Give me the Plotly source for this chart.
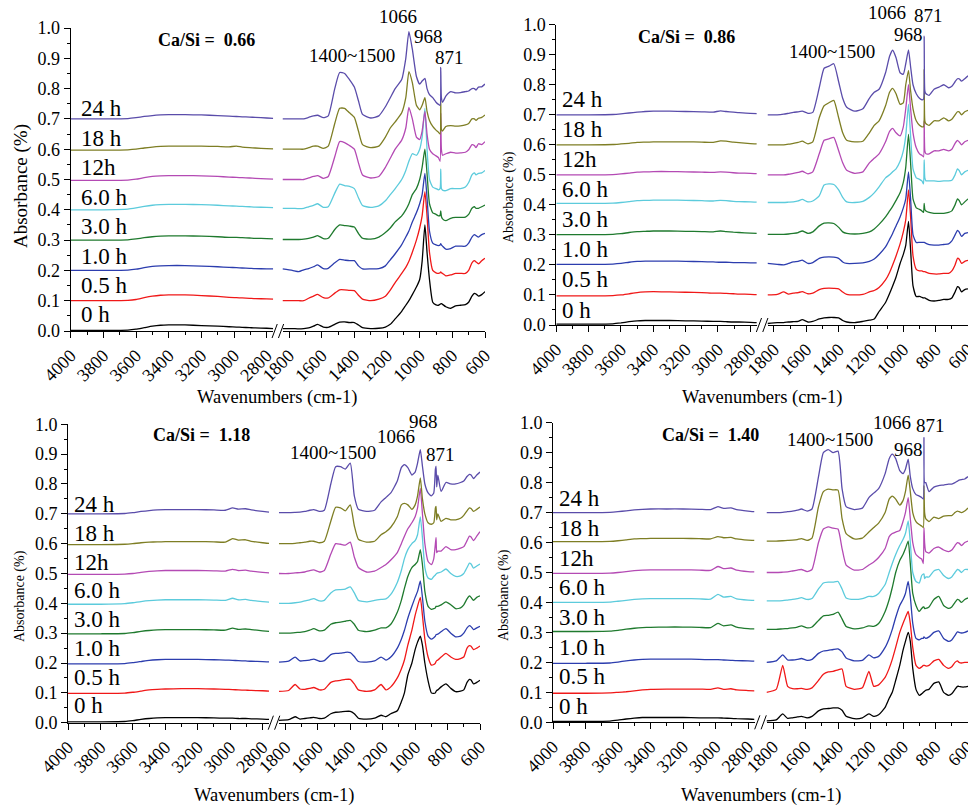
import plotly.graph_objects as go

# ---------------- data ----------------
W_LEFT = [4000, 3800, 3650, 3600, 3550, 3500, 3450, 3400, 3300, 3200, 3100, 3030, 2985, 2950, 2905, 2870, 2800, 2760]
W_RIGHT = [1840, 1780, 1740, 1710, 1680, 1650, 1625, 1590, 1560, 1520,
           1490, 1460, 1430, 1400, 1375, 1350, 1300, 1250, 1210, 1180,
           1150, 1110, 1085, 1066, 1045, 1020, 1000, 985, 968, 955,
           940, 920, 900, 885, 875, 871, 867, 860, 840, 810,
           780, 750, 720, 700, 680, 665, 655, 640, 620, 600]
TIMES = ["0 h", "0.5 h", "1.0 h", "3.0 h", "6.0 h", "12h", "18 h", "24 h"]
OFFSETS = [0.0, 0.1, 0.2, 0.3, 0.4, 0.5, 0.6, 0.7]
COLORS = ["#000000", "#f01818", "#2c3dae", "#1f7a2e", "#5ccbdc", "#b44ab4", "#7e7e24", "#5a4caa"]
RATIOS = ["0.66", "0.86", "1.18", "1.40"]
PEAKS = ["1400~1500", "1066", "968", "871"]
Y_TICKS = [0.0, 0.1, 0.2, 0.3, 0.4, 0.5, 0.6, 0.7, 0.8, 0.9, 1.0]

# Ca/Si = 0.66
left_066 = [
    [0.002, 0.002, 0.003, 0.006, 0.011, 0.016, 0.019, 0.020, 0.020, 0.018, 0.016, 0.014, 0.013, 0.012, 0.011, 0.010, 0.009, 0.008],
    [0.100, 0.100, 0.101, 0.104, 0.110, 0.115, 0.118, 0.119, 0.119, 0.117, 0.114, 0.111, 0.110, 0.109, 0.108, 0.107, 0.106, 0.105],
    [0.200, 0.200, 0.201, 0.204, 0.209, 0.213, 0.215, 0.216, 0.216, 0.214, 0.212, 0.210, 0.209, 0.208, 0.207, 0.206, 0.205, 0.205],
    [0.300, 0.300, 0.301, 0.304, 0.308, 0.311, 0.313, 0.314, 0.314, 0.313, 0.311, 0.309, 0.309, 0.308, 0.307, 0.306, 0.305, 0.304],
    [0.400, 0.400, 0.402, 0.406, 0.411, 0.415, 0.417, 0.418, 0.418, 0.417, 0.415, 0.413, 0.412, 0.411, 0.410, 0.409, 0.408, 0.407],
    [0.497, 0.497, 0.498, 0.501, 0.506, 0.510, 0.512, 0.513, 0.513, 0.512, 0.510, 0.508, 0.507, 0.506, 0.505, 0.504, 0.502, 0.501],
    [0.597, 0.597, 0.598, 0.600, 0.604, 0.607, 0.609, 0.610, 0.610, 0.610, 0.609, 0.608, 0.610, 0.607, 0.605, 0.604, 0.602, 0.601],
    [0.700, 0.700, 0.701, 0.704, 0.708, 0.711, 0.713, 0.714, 0.714, 0.713, 0.711, 0.709, 0.708, 0.707, 0.706, 0.705, 0.703, 0.702],
]
right_066 = [
    [0.008, 0.008, 0.007, 0.008, 0.010, 0.016, 0.022, 0.013, 0.012, 0.022,
     0.029, 0.030, 0.028, 0.028, 0.020, 0.011, 0.008, 0.009, 0.013, 0.022,
     0.040, 0.065, 0.085, 0.100, 0.120, 0.145, 0.170, 0.230, 0.350, 0.260,
     0.170, 0.095, 0.086, 0.085, 0.088, 0.090, 0.090, 0.088, 0.080, 0.075,
     0.083, 0.085, 0.087, 0.095, 0.115, 0.124, 0.122, 0.115, 0.120, 0.130],
    [0.100, 0.100, 0.100, 0.100, 0.108, 0.115, 0.121, 0.110, 0.109, 0.125,
     0.136, 0.136, 0.134, 0.133, 0.118, 0.105, 0.100, 0.105, 0.115, 0.135,
     0.160, 0.190, 0.210, 0.230, 0.260, 0.300, 0.340, 0.380, 0.460, 0.380,
     0.260, 0.200, 0.192, 0.190, 0.192, 0.195, 0.192, 0.190, 0.182, 0.185,
     0.190, 0.190, 0.190, 0.200, 0.225, 0.232, 0.228, 0.222, 0.232, 0.240],
    [0.205, 0.200, 0.196, 0.202, 0.206, 0.212, 0.218, 0.206, 0.207, 0.225,
     0.236, 0.234, 0.232, 0.232, 0.215, 0.205, 0.205, 0.206, 0.215, 0.235,
     0.255, 0.285, 0.310, 0.330, 0.360, 0.390, 0.420, 0.450, 0.520, 0.440,
     0.330, 0.290, 0.284, 0.282, 0.284, 0.288, 0.284, 0.280, 0.270, 0.272,
     0.280, 0.280, 0.280, 0.290, 0.310, 0.318, 0.315, 0.310, 0.318, 0.322],
    [0.302, 0.302, 0.302, 0.303, 0.306, 0.310, 0.315, 0.305, 0.306, 0.335,
     0.350, 0.348, 0.346, 0.343, 0.322, 0.306, 0.303, 0.310, 0.325, 0.340,
     0.360, 0.380, 0.400, 0.420, 0.450, 0.470, 0.500, 0.540, 0.600, 0.520,
     0.420, 0.390, 0.385, 0.380, 0.382, 0.396, 0.378, 0.370, 0.364, 0.372,
     0.375, 0.375, 0.376, 0.385, 0.405, 0.410, 0.405, 0.405, 0.410, 0.416],
    [0.405, 0.405, 0.404, 0.405, 0.410, 0.415, 0.420, 0.408, 0.410, 0.455,
     0.485, 0.480, 0.477, 0.470, 0.440, 0.414, 0.408, 0.413, 0.430, 0.450,
     0.470, 0.500, 0.530, 0.560, 0.585, 0.580, 0.600, 0.640, 0.735, 0.600,
     0.500, 0.475, 0.470, 0.466, 0.470, 0.534, 0.470, 0.465, 0.463, 0.470,
     0.470, 0.470, 0.475, 0.490, 0.515, 0.522, 0.515, 0.520, 0.522, 0.530],
    [0.500, 0.500, 0.500, 0.500, 0.505, 0.510, 0.513, 0.504, 0.510, 0.575,
     0.625, 0.622, 0.612, 0.600, 0.555, 0.515, 0.505, 0.510, 0.540, 0.570,
     0.600, 0.630, 0.670, 0.738, 0.700, 0.640, 0.632, 0.660, 0.725, 0.650,
     0.600, 0.585, 0.578, 0.572, 0.560, 0.720, 0.600, 0.580, 0.585, 0.590,
     0.587, 0.588, 0.590, 0.598, 0.615, 0.612, 0.605, 0.618, 0.615, 0.625],
    [0.600, 0.600, 0.600, 0.600, 0.605, 0.610, 0.610, 0.603, 0.610, 0.685,
     0.735, 0.735, 0.720, 0.705, 0.660, 0.615, 0.605, 0.610, 0.640, 0.670,
     0.690, 0.720, 0.770, 0.856, 0.820, 0.745, 0.730, 0.745, 0.770, 0.725,
     0.695, 0.675, 0.663, 0.656, 0.650, 0.760, 0.665, 0.660, 0.675, 0.678,
     0.676, 0.677, 0.680, 0.685, 0.700, 0.700, 0.695, 0.702, 0.705, 0.713],
    [0.700, 0.700, 0.700, 0.700, 0.705, 0.710, 0.712, 0.704, 0.710, 0.800,
     0.853, 0.850, 0.830, 0.805, 0.760, 0.715, 0.703, 0.710, 0.740, 0.770,
     0.800, 0.830, 0.900, 0.988, 0.930, 0.840, 0.815, 0.825, 0.834, 0.800,
     0.780, 0.770, 0.755, 0.748, 0.745, 0.870, 0.770, 0.755, 0.775, 0.790,
     0.786, 0.787, 0.790, 0.792, 0.800, 0.800, 0.795, 0.805, 0.806, 0.815],
]

# Ca/Si = 0.86
left_086 = [
    [0.003, 0.003, 0.004, 0.007, 0.011, 0.014, 0.015, 0.015, 0.015, 0.014, 0.013, 0.012, 0.012, 0.011, 0.010, 0.010, 0.009, 0.008],
    [0.097, 0.097, 0.098, 0.100, 0.104, 0.108, 0.110, 0.111, 0.110, 0.109, 0.108, 0.106, 0.106, 0.105, 0.104, 0.103, 0.102, 0.101],
    [0.202, 0.202, 0.203, 0.205, 0.209, 0.212, 0.213, 0.213, 0.213, 0.212, 0.211, 0.210, 0.209, 0.209, 0.208, 0.208, 0.207, 0.207],
    [0.301, 0.301, 0.302, 0.304, 0.308, 0.311, 0.312, 0.313, 0.313, 0.312, 0.311, 0.310, 0.313, 0.311, 0.309, 0.308, 0.306, 0.305],
    [0.405, 0.405, 0.406, 0.408, 0.411, 0.414, 0.415, 0.416, 0.416, 0.415, 0.414, 0.413, 0.415, 0.414, 0.412, 0.411, 0.410, 0.409],
    [0.500, 0.500, 0.501, 0.503, 0.506, 0.509, 0.510, 0.511, 0.511, 0.510, 0.509, 0.508, 0.510, 0.509, 0.507, 0.506, 0.505, 0.504],
    [0.600, 0.600, 0.601, 0.603, 0.605, 0.608, 0.609, 0.610, 0.610, 0.610, 0.609, 0.608, 0.613, 0.612, 0.609, 0.607, 0.604, 0.603],
    [0.700, 0.700, 0.701, 0.703, 0.706, 0.709, 0.711, 0.712, 0.712, 0.711, 0.710, 0.709, 0.713, 0.711, 0.709, 0.707, 0.705, 0.704],
]
right_086 = [
    [0.005, 0.008, 0.008, 0.010, 0.011, 0.012, 0.018, 0.010, 0.012, 0.020,
     0.024, 0.025, 0.025, 0.024, 0.015, 0.010, 0.008, 0.012, 0.016, 0.020,
     0.045, 0.075, 0.105, 0.130, 0.160, 0.205, 0.235, 0.265, 0.345, 0.250,
     0.130, 0.095, 0.095, 0.092, 0.090, 0.090, 0.090, 0.088, 0.082, 0.080,
     0.082, 0.085, 0.085, 0.090, 0.110, 0.128, 0.125, 0.110, 0.118, 0.120],
    [0.100, 0.102, 0.110, 0.103, 0.106, 0.108, 0.111, 0.104, 0.106, 0.118,
     0.122, 0.123, 0.122, 0.120, 0.110, 0.102, 0.100, 0.102, 0.110, 0.115,
     0.125, 0.150, 0.175, 0.200, 0.230, 0.270, 0.310, 0.350, 0.450, 0.360,
     0.230, 0.185, 0.180, 0.180, 0.178, 0.178, 0.178, 0.176, 0.172, 0.170,
     0.170, 0.172, 0.172, 0.180, 0.200, 0.222, 0.220, 0.205, 0.212, 0.215],
    [0.205, 0.202, 0.200, 0.205, 0.210, 0.212, 0.216, 0.205, 0.208, 0.222,
     0.226, 0.227, 0.226, 0.222, 0.210, 0.205, 0.205, 0.207, 0.212, 0.220,
     0.235, 0.260, 0.285, 0.305, 0.330, 0.360, 0.390, 0.420, 0.510, 0.420,
     0.300, 0.275, 0.275, 0.275, 0.275, 0.275, 0.274, 0.272, 0.268, 0.266,
     0.266, 0.268, 0.270, 0.280, 0.300, 0.315, 0.310, 0.295, 0.305, 0.308],
    [0.302, 0.302, 0.302, 0.303, 0.305, 0.308, 0.313, 0.305, 0.310, 0.330,
     0.339, 0.340, 0.338, 0.325, 0.310, 0.305, 0.303, 0.305, 0.310, 0.320,
     0.335, 0.360, 0.380, 0.395, 0.415, 0.440, 0.475, 0.525, 0.635, 0.540,
     0.420, 0.390, 0.385, 0.380, 0.375, 0.405, 0.385, 0.380, 0.375, 0.372,
     0.372, 0.372, 0.375, 0.380, 0.400, 0.420, 0.415, 0.400, 0.410, 0.420],
    [0.408, 0.408, 0.408, 0.409, 0.410, 0.413, 0.418, 0.410, 0.413, 0.430,
     0.466, 0.470, 0.468, 0.450, 0.425, 0.410, 0.408, 0.412, 0.425, 0.440,
     0.460, 0.490, 0.500, 0.510, 0.520, 0.545, 0.580, 0.630, 0.735, 0.630,
     0.520, 0.490, 0.485, 0.480, 0.470, 0.550, 0.490, 0.480, 0.480, 0.480,
     0.478, 0.480, 0.480, 0.482, 0.500, 0.520, 0.515, 0.500, 0.510, 0.515],
    [0.500, 0.500, 0.500, 0.502, 0.505, 0.508, 0.512, 0.503, 0.510, 0.570,
     0.615, 0.620, 0.625, 0.580, 0.540, 0.515, 0.505, 0.510, 0.540, 0.555,
     0.570, 0.610, 0.645, 0.655, 0.640, 0.630, 0.660, 0.720, 0.800, 0.720,
     0.640, 0.590, 0.570, 0.565, 0.560, 0.680, 0.580, 0.570, 0.570, 0.580,
     0.580, 0.585, 0.580, 0.585, 0.605, 0.615, 0.610, 0.600, 0.610, 0.615],
    [0.600, 0.600, 0.600, 0.602, 0.605, 0.608, 0.612, 0.603, 0.610, 0.690,
     0.730, 0.740, 0.748, 0.690, 0.640, 0.615, 0.610, 0.612, 0.640, 0.665,
     0.680, 0.730, 0.775, 0.788, 0.770, 0.735, 0.740, 0.800, 0.848, 0.780,
     0.720, 0.680, 0.665, 0.660, 0.660, 0.850, 0.680, 0.670, 0.665, 0.680,
     0.680, 0.690, 0.680, 0.685, 0.700, 0.710, 0.710, 0.700, 0.710, 0.715],
    [0.700, 0.700, 0.702, 0.705, 0.708, 0.710, 0.712, 0.705, 0.708, 0.790,
     0.855, 0.862, 0.870, 0.810, 0.755, 0.725, 0.712, 0.720, 0.755, 0.775,
     0.785, 0.840, 0.895, 0.915, 0.890, 0.840, 0.835, 0.870, 0.916, 0.860,
     0.800, 0.770, 0.755, 0.750, 0.752, 0.962, 0.780, 0.770, 0.765, 0.785,
     0.792, 0.800, 0.790, 0.795, 0.810, 0.820, 0.820, 0.812, 0.820, 0.830],
]

# Ca/Si = 1.18
left_118 = [
    [0.003, 0.003, 0.004, 0.007, 0.011, 0.014, 0.016, 0.017, 0.017, 0.017, 0.016, 0.015, 0.015, 0.014, 0.014, 0.013, 0.012, 0.011],
    [0.098, 0.098, 0.099, 0.102, 0.106, 0.110, 0.112, 0.113, 0.114, 0.114, 0.113, 0.112, 0.111, 0.110, 0.109, 0.108, 0.107, 0.106],
    [0.197, 0.197, 0.198, 0.201, 0.205, 0.209, 0.211, 0.212, 0.212, 0.212, 0.211, 0.210, 0.209, 0.208, 0.207, 0.206, 0.205, 0.204],
    [0.298, 0.298, 0.299, 0.302, 0.306, 0.309, 0.311, 0.312, 0.312, 0.312, 0.311, 0.310, 0.317, 0.313, 0.314, 0.312, 0.308, 0.306],
    [0.397, 0.397, 0.399, 0.402, 0.406, 0.409, 0.411, 0.412, 0.412, 0.412, 0.411, 0.410, 0.417, 0.412, 0.413, 0.410, 0.406, 0.404],
    [0.497, 0.497, 0.498, 0.500, 0.504, 0.507, 0.509, 0.510, 0.510, 0.510, 0.509, 0.508, 0.514, 0.510, 0.511, 0.508, 0.504, 0.502],
    [0.597, 0.597, 0.598, 0.600, 0.603, 0.605, 0.606, 0.607, 0.607, 0.607, 0.606, 0.605, 0.617, 0.612, 0.613, 0.608, 0.603, 0.601],
    [0.700, 0.700, 0.701, 0.704, 0.708, 0.711, 0.713, 0.714, 0.714, 0.714, 0.713, 0.712, 0.720, 0.716, 0.717, 0.713, 0.708, 0.706],
]
right_118 = [
    [0.008, 0.010, 0.020, 0.012, 0.014, 0.016, 0.018, 0.014, 0.015, 0.030,
     0.035, 0.036, 0.038, 0.038, 0.030, 0.015, 0.012, 0.015, 0.025, 0.020,
     0.030, 0.040, 0.070, 0.100, 0.160, 0.200, 0.245, 0.270, 0.290, 0.260,
     0.200, 0.140, 0.100, 0.098, 0.100, 0.105, 0.108, 0.110, 0.120, 0.130,
     0.115, 0.104, 0.106, 0.110, 0.135, 0.145, 0.143, 0.130, 0.135, 0.142],
    [0.105, 0.108, 0.128, 0.113, 0.112, 0.115, 0.118, 0.110, 0.112, 0.135,
     0.140, 0.142, 0.145, 0.145, 0.130, 0.110, 0.105, 0.110, 0.128, 0.110,
     0.120, 0.150, 0.180, 0.210, 0.260, 0.310, 0.360, 0.390, 0.420, 0.360,
     0.280, 0.220, 0.193, 0.195, 0.200, 0.205, 0.208, 0.210, 0.220, 0.232,
     0.220, 0.212, 0.215, 0.220, 0.250, 0.258, 0.256, 0.245, 0.250, 0.257],
    [0.203, 0.206, 0.220, 0.207, 0.208, 0.210, 0.213, 0.206, 0.208, 0.228,
     0.232, 0.233, 0.236, 0.235, 0.222, 0.205, 0.203, 0.207, 0.220, 0.210,
     0.220, 0.250, 0.280, 0.310, 0.350, 0.390, 0.420, 0.440, 0.475, 0.420,
     0.340, 0.290, 0.280, 0.285, 0.290, 0.295, 0.296, 0.297, 0.305, 0.315,
     0.300, 0.288, 0.290, 0.300, 0.318, 0.325, 0.322, 0.312, 0.318, 0.323],
    [0.300, 0.300, 0.302, 0.303, 0.305, 0.310, 0.315, 0.308, 0.310, 0.330,
     0.335, 0.337, 0.340, 0.343, 0.330, 0.310, 0.305, 0.310, 0.318, 0.318,
     0.330, 0.370, 0.410, 0.450, 0.490, 0.520, 0.530, 0.540, 0.580, 0.530,
     0.440, 0.390, 0.380, 0.382, 0.385, 0.390, 0.390, 0.390, 0.395, 0.405,
     0.395, 0.382, 0.385, 0.395, 0.415, 0.425, 0.420, 0.410, 0.420, 0.425],
    [0.400, 0.400, 0.402, 0.404, 0.408, 0.412, 0.416, 0.408, 0.410, 0.435,
     0.445, 0.446, 0.448, 0.455, 0.435, 0.410, 0.405, 0.410, 0.413, 0.415,
     0.430, 0.470, 0.510, 0.550, 0.580, 0.600, 0.610, 0.630, 0.690, 0.620,
     0.520, 0.485, 0.480, 0.490, 0.495, 0.498, 0.500, 0.502, 0.505, 0.515,
     0.500, 0.490, 0.492, 0.500, 0.520, 0.535, 0.532, 0.518, 0.525, 0.532],
    [0.500, 0.500, 0.502, 0.503, 0.505, 0.510, 0.512, 0.505, 0.510, 0.565,
     0.600, 0.598, 0.595, 0.605, 0.555, 0.520, 0.505, 0.508, 0.520, 0.530,
     0.545, 0.570, 0.600, 0.625, 0.650, 0.670, 0.690, 0.720, 0.785, 0.700,
     0.600, 0.540, 0.530, 0.550, 0.600, 0.620, 0.570, 0.575, 0.575, 0.590,
     0.580, 0.580, 0.585, 0.590, 0.610, 0.625, 0.622, 0.610, 0.625, 0.640],
    [0.600, 0.600, 0.601, 0.603, 0.605, 0.608, 0.608, 0.603, 0.608, 0.675,
     0.722, 0.720, 0.710, 0.730, 0.660, 0.615, 0.605, 0.608, 0.630, 0.640,
     0.655, 0.690, 0.730, 0.735, 0.730, 0.715, 0.730, 0.760, 0.820, 0.750,
     0.700, 0.670, 0.665, 0.670, 0.720, 0.725, 0.680, 0.700, 0.675, 0.685,
     0.680, 0.680, 0.685, 0.695, 0.710, 0.720, 0.718, 0.708, 0.715, 0.723],
    [0.704, 0.704, 0.705, 0.706, 0.708, 0.712, 0.714, 0.708, 0.712, 0.800,
     0.858, 0.858, 0.850, 0.870, 0.760, 0.715, 0.708, 0.712, 0.740, 0.755,
     0.770, 0.810, 0.855, 0.865, 0.855, 0.830, 0.840, 0.870, 0.915, 0.860,
     0.800, 0.770, 0.760, 0.770, 0.850, 0.860, 0.790, 0.830, 0.775, 0.805,
     0.800, 0.800, 0.805, 0.810, 0.825, 0.832, 0.830, 0.818, 0.830, 0.840],
]

# Ca/Si = 1.40
left_140 = [
    [0.003, 0.003, 0.004, 0.007, 0.011, 0.014, 0.016, 0.016, 0.016, 0.016, 0.015, 0.015, 0.015, 0.014, 0.013, 0.012, 0.011, 0.010],
    [0.097, 0.097, 0.098, 0.100, 0.102, 0.105, 0.108, 0.110, 0.111, 0.111, 0.111, 0.110, 0.115, 0.110, 0.112, 0.108, 0.106, 0.105],
    [0.197, 0.197, 0.198, 0.201, 0.205, 0.208, 0.210, 0.211, 0.211, 0.211, 0.210, 0.209, 0.209, 0.208, 0.207, 0.206, 0.205, 0.204],
    [0.303, 0.303, 0.304, 0.307, 0.311, 0.314, 0.316, 0.317, 0.318, 0.318, 0.317, 0.316, 0.330, 0.322, 0.325, 0.318, 0.313, 0.312],
    [0.400, 0.400, 0.401, 0.404, 0.407, 0.410, 0.412, 0.413, 0.413, 0.413, 0.412, 0.411, 0.427, 0.418, 0.420, 0.412, 0.408, 0.407],
    [0.497, 0.497, 0.498, 0.500, 0.503, 0.506, 0.508, 0.509, 0.509, 0.509, 0.508, 0.507, 0.520, 0.513, 0.515, 0.508, 0.503, 0.502],
    [0.603, 0.603, 0.604, 0.606, 0.609, 0.612, 0.613, 0.614, 0.614, 0.614, 0.613, 0.612, 0.620, 0.616, 0.617, 0.612, 0.608, 0.607],
    [0.700, 0.700, 0.701, 0.703, 0.706, 0.709, 0.711, 0.712, 0.712, 0.712, 0.711, 0.710, 0.720, 0.714, 0.716, 0.710, 0.705, 0.703],
]
right_140 = [
    [0.005, 0.008, 0.028, 0.013, 0.015, 0.018, 0.020, 0.015, 0.020, 0.038,
     0.045, 0.046, 0.048, 0.048, 0.040, 0.020, 0.012, 0.015, 0.028, 0.020,
     0.025, 0.050, 0.080, 0.100, 0.140, 0.190, 0.240, 0.270, 0.300, 0.270,
     0.180, 0.110, 0.090, 0.095, 0.100, 0.102, 0.104, 0.107, 0.110, 0.130,
     0.135, 0.100, 0.090, 0.095, 0.110, 0.120, 0.120, 0.118, 0.118, 0.120],
    [0.100, 0.110, 0.190, 0.120, 0.112, 0.112, 0.113, 0.110, 0.115, 0.140,
     0.160, 0.168, 0.170, 0.175, 0.178, 0.120, 0.110, 0.115, 0.170, 0.120,
     0.125, 0.150, 0.180, 0.210, 0.250, 0.300, 0.330, 0.350, 0.370, 0.330,
     0.250, 0.190, 0.180, 0.185, 0.190, 0.190, 0.190, 0.188, 0.190, 0.205,
     0.210, 0.190, 0.180, 0.185, 0.200, 0.205, 0.200, 0.198, 0.200, 0.200],
    [0.200, 0.205, 0.225, 0.208, 0.208, 0.210, 0.213, 0.207, 0.210, 0.230,
     0.238, 0.240, 0.243, 0.245, 0.235, 0.215, 0.205, 0.207, 0.225, 0.215,
     0.220, 0.250, 0.280, 0.310, 0.350, 0.390, 0.410, 0.430, 0.470, 0.420,
     0.330, 0.280, 0.275, 0.280, 0.280, 0.285, 0.283, 0.280, 0.285, 0.300,
     0.305, 0.280, 0.270, 0.275, 0.290, 0.302, 0.300, 0.298, 0.300, 0.305],
    [0.310, 0.310, 0.312, 0.313, 0.315, 0.318, 0.322, 0.315, 0.318, 0.340,
     0.355, 0.357, 0.360, 0.368, 0.345, 0.320, 0.312, 0.315, 0.322, 0.320,
     0.330, 0.370, 0.410, 0.450, 0.500, 0.540, 0.560, 0.580, 0.605, 0.530,
     0.430, 0.390, 0.370, 0.380, 0.385, 0.385, 0.380, 0.380, 0.385, 0.410,
     0.420, 0.390, 0.380, 0.385, 0.400, 0.410, 0.408, 0.400, 0.410, 0.415],
    [0.405, 0.405, 0.406, 0.408, 0.410, 0.413, 0.416, 0.410, 0.413, 0.445,
     0.465, 0.468, 0.468, 0.470, 0.445, 0.415, 0.410, 0.413, 0.420, 0.420,
     0.430, 0.460, 0.500, 0.530, 0.560, 0.590, 0.610, 0.630, 0.672, 0.600,
     0.500, 0.470, 0.465, 0.490, 0.495, 0.495, 0.480, 0.485, 0.485, 0.505,
     0.510, 0.490, 0.480, 0.485, 0.500, 0.510, 0.508, 0.500, 0.510, 0.510],
    [0.500, 0.500, 0.501, 0.502, 0.505, 0.508, 0.510, 0.503, 0.510, 0.600,
     0.645, 0.652, 0.648, 0.645, 0.580, 0.525, 0.508, 0.510, 0.525, 0.535,
     0.550, 0.580, 0.620, 0.630, 0.635, 0.640, 0.670, 0.700, 0.750, 0.680,
     0.600, 0.560, 0.550, 0.545, 0.530, 0.650, 0.600, 0.570, 0.565, 0.580,
     0.585, 0.575, 0.570, 0.575, 0.590, 0.600, 0.598, 0.590, 0.600, 0.605],
    [0.605, 0.605, 0.606, 0.607, 0.608, 0.610, 0.613, 0.607, 0.615, 0.720,
     0.770, 0.778, 0.776, 0.775, 0.680, 0.630, 0.612, 0.615, 0.635, 0.650,
     0.665, 0.700, 0.745, 0.755, 0.745, 0.725, 0.740, 0.770, 0.825, 0.770,
     0.700, 0.670, 0.660, 0.655, 0.650, 0.790, 0.700, 0.680, 0.670, 0.685,
     0.680, 0.688, 0.690, 0.690, 0.700, 0.705, 0.703, 0.700, 0.705, 0.715],
    [0.700, 0.700, 0.701, 0.703, 0.705, 0.708, 0.712, 0.705, 0.712, 0.820,
     0.900, 0.910, 0.900, 0.905, 0.780, 0.720, 0.710, 0.715, 0.750, 0.765,
     0.780, 0.830, 0.880, 0.895, 0.880, 0.840, 0.830, 0.845, 0.878, 0.820,
     0.780, 0.760, 0.755, 0.750, 0.745, 0.950, 0.800, 0.800, 0.770, 0.785,
     0.790, 0.792, 0.795, 0.795, 0.800, 0.805, 0.808, 0.810, 0.812, 0.820],
]

LEFT_DATA = [left_066, left_086, left_118, left_140]
RIGHT_DATA = [right_066, right_086, right_118, right_140]

# ---------------- layout geometry (pixels in a 968x805 page) ----------------
W, H = 968, 805
FONT = "Liberation Serif, 'Times New Roman', Times, 'DejaVu Serif', serif"


def fx(p):
    return p / W


def fy(p):
    return 1 - p / H


PANELS = [
    dict(ytop=28.0, ybot=331.0, left=(70.7, 273.2), right=(282.5, 485.0),
         ratio_pos=(206, 40), peak_pos=[(352, 55), (398, 17), (428, 36), (449, 58)],
         lab_x=78.7, lab_shift=(16, 10), ytitle=(21, 186, 19), xtitle=(277, 397)),
    dict(ytop=24.7, ybot=325.0, left=(556.3, 756.8), right=(767.5, 968.0),
         ratio_pos=(686, 37), peak_pos=[(832, 52), (887, 13), (908, 35), (928, 15)],
         lab_x=560.0, lab_shift=(15, 15), ytitle=(509, 197, 14), xtitle=(762, 397)),
    dict(ytop=424.3, ybot=722.7, left=(68.0, 269.1), right=(278.9, 480.0),
         ratio_pos=(201, 435), peak_pos=[(333, 452), (396, 437), (423, 421), (440, 454)],
         lab_x=72.0, lab_shift=(17, 9), ytitle=(20, 596, 14), xtitle=(274, 795)),
    dict(ytop=422.7, ybot=722.3, left=(553.0, 754.5), right=(766.5, 968.0),
         ratio_pos=(710, 435), peak_pos=[(830, 439), (892, 423), (908, 450), (930, 425)],
         lab_x=556.7, lab_shift=(15.6, 14), ytitle=(504, 595, 14), xtitle=(761, 795)),
]

fig = go.Figure()
layout = dict(
    width=W, height=H, autosize=False,
    margin=dict(l=0, r=0, t=0, b=0, pad=0, autoexpand=False),
    paper_bgcolor="white", plot_bgcolor="white", showlegend=False,
    font=dict(family=FONT, color="black"),
)
annotations = []
shapes = []


def ax_name(kind, i):
    return kind if i == 1 else f"{kind}{i}"


for p, cfg in enumerate(PANELS):
    xl_id, xr_id, y_id = 2 * p + 1, 2 * p + 2, p + 1
    xl, xr, yy = ax_name("x", xl_id), ax_name("x", xr_id), ax_name("y", y_id)

    for k in range(len(TIMES)):
        common = dict(mode="lines", line=dict(color=COLORS[k], width=1.3, shape="spline", smoothing=0.5),
                      hoverinfo="skip", name=TIMES[k])
        fig.add_trace(go.Scatter(x=W_LEFT, y=LEFT_DATA[p][k], xaxis=xl, yaxis=yy, **common))
        fig.add_trace(go.Scatter(x=W_RIGHT, y=RIGHT_DATA[p][k], xaxis=xr, yaxis=yy, **common))

    xbase = dict(showline=True, linecolor="black", linewidth=1, ticks="outside", ticklen=6,
                 tickwidth=1, tickcolor="black", showgrid=False, zeroline=False, dtick=200,
                 tickangle=-45, tickfont=dict(family=FONT, size=18, color="black"),
                 minor=dict(ticks="outside", ticklen=3, dtick=100, tickcolor="black", showgrid=False),
                 anchor=yy, fixedrange=True, automargin=False, ticklabeloverflow="allow")
    layout["xaxis" if xl_id == 1 else f"xaxis{xl_id}"] = dict(
        xbase, domain=[fx(cfg["left"][0]), fx(cfg["left"][1])], range=[W_LEFT[0], W_LEFT[-1]])
    layout[f"xaxis{xr_id}"] = dict(
        xbase, domain=[fx(cfg["right"][0]), fx(cfg["right"][1])], range=[W_RIGHT[0], W_RIGHT[-1]])
    layout["yaxis" if y_id == 1 else f"yaxis{y_id}"] = dict(
        domain=[fy(cfg["ybot"]), fy(cfg["ytop"])], range=[Y_TICKS[0], Y_TICKS[-1]],
        anchor=xl, showline=True, linecolor="black", linewidth=1, ticks="outside", ticklen=6,
        tickwidth=1, tickcolor="black", showgrid=False, zeroline=False,
        tickvals=Y_TICKS, tickformat=".1f",
        tickfont=dict(family=FONT, size=18, color="black"),
        minor=dict(ticks="outside", ticklen=3, dtick=0.05, tickcolor="black", showgrid=False),
        fixedrange=True, automargin=False, ticklabeloverflow="allow")

    # axis break marks "//"
    gap_c = (cfg["left"][1] + cfg["right"][0]) / 2
    for dx in (-3.2, 3.2):
        cx = gap_c + dx
        shapes.append(dict(type="line", xref="paper", yref="paper",
                           x0=fx(cx - 2.6), y0=fy(cfg["ybot"] + 7), x1=fx(cx + 2.6), y1=fy(cfg["ybot"] - 7),
                           line=dict(color="black", width=1)))

    annotations.append(dict(text=f"<b>Ca/Si =\u00a0 {RATIOS[p]}</b>", x=fx(cfg["ratio_pos"][0]),
                            y=fy(cfg["ratio_pos"][1]), xref="paper", yref="paper", showarrow=False,
                            xanchor="center", yanchor="middle", font=dict(family=FONT, size=18)))
    for t, (px_, py_) in zip(PEAKS, cfg["peak_pos"]):
        annotations.append(dict(text=t, x=fx(px_), y=fy(py_), xref="paper", yref="paper",
                                showarrow=False, xanchor="center", yanchor="middle",
                                font=dict(family=FONT, size=19)))
    s0, s1 = cfg["lab_shift"]
    for k, t in enumerate(TIMES):
        base_px = cfg["ybot"] - OFFSETS[k] * (cfg["ybot"] - cfg["ytop"])
        shift = s0 + (s1 - s0) * k / (len(TIMES) - 1)
        annotations.append(dict(text=t, x=fx(cfg["lab_x"]), y=fy(base_px - shift), xref="paper",
                                yref="paper", showarrow=False, xanchor="left", yanchor="middle",
                                font=dict(family=FONT, size=23)))
    tx, ty, ts = cfg["ytitle"]
    annotations.append(dict(text="Absorbance (%)", x=fx(tx), y=fy(ty), xref="paper", yref="paper",
                            showarrow=False, textangle=-90, xanchor="center", yanchor="middle",
                            font=dict(family=FONT, size=ts)))
    annotations.append(dict(text="Wavenumbers (cm-1)", x=fx(cfg["xtitle"][0]), y=fy(cfg["xtitle"][1]),
                            xref="paper", yref="paper", showarrow=False, xanchor="center",
                            yanchor="middle", font=dict(family=FONT, size=18.5)))

layout["annotations"] = annotations
layout["shapes"] = shapes
fig.update_layout(**layout)
fig.write_html(
    "out.html",
    config={"displayModeBar": False},
    post_script="document.body.style.margin='0';document.body.style.overflow='hidden';",
)
